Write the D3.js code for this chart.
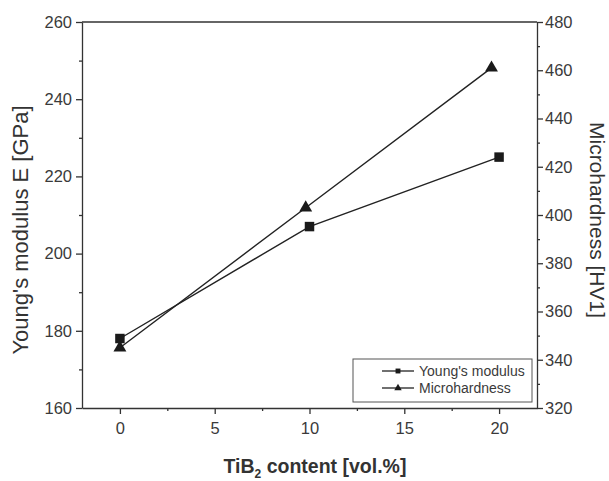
<!DOCTYPE html>
<html>
<head>
<meta charset="utf-8">
<script src="https://cdn.jsdelivr.net/npm/d3@7"></script>
<style>
body { margin: 0; background: #fff; }
svg { font-family: "Liberation Sans", Arial, sans-serif; }
.tick text { font-size: 16.5px; fill: #3a3a3a; }
.axis path, .axis line { stroke: #333; }
.title { fill: #333; }
.legend { font-size: 14px; fill: #3a3a3a; }
</style>
</head>
<body>
<svg id="chart" width="609" height="481"></svg>
<script>
// values
const content = [0, 10, 20];
const youngs = [178, 207, 225];
const hardContent = [0, 9.8, 19.6];
const hardness = [345, 403, 461];
const xTicks = [0, 5, 10, 15, 20];
const leftTicks = [160, 180, 200, 220, 240, 260];
const rightTicks = [320, 340, 360, 380, 400, 420, 440, 460, 480];

let svg = d3.select("#chart");
let pLeft = 82, pRight = 537, pTop = 22, pBottom = 408;

let xScale = d3.scaleLinear().domain([-2, 22]).range([pLeft, pRight]);
let yLeft = d3.scaleLinear().domain([160, 260]).range([pBottom, pTop]);
let yRight = d3.scaleLinear().domain([320, 480]).range([pBottom, pTop]);

// minor ticks first
svg.append("g").attr("class", "axis").attr("transform", `translate(0,${pBottom})`)
    .call(d3.axisBottom(xScale).tickValues([2.5, 7.5, 12.5, 17.5]).tickSize(3).tickFormat(""))
    .select(".domain").remove();
svg.append("g").attr("class", "axis").attr("transform", `translate(${pLeft},0)`)
    .call(d3.axisLeft(yLeft).tickValues(d3.range(170, 260, 20)).tickSize(3).tickFormat(""))
    .select(".domain").remove();
svg.append("g").attr("class", "axis").attr("transform", `translate(${pRight},0)`)
    .call(d3.axisRight(yRight).tickValues(d3.range(330, 480, 20)).tickSize(3).tickFormat(""))
    .select(".domain").remove();

svg.append("g").attr("class", "axis").attr("transform", `translate(0,${pBottom})`)
    .call(d3.axisBottom(xScale).tickValues(xTicks).tickSize(6).tickSizeOuter(0).tickPadding(8));
svg.append("g").attr("class", "axis").attr("transform", `translate(${pLeft},0)`)
    .call(d3.axisLeft(yLeft).tickValues(leftTicks).tickSize(6).tickSizeOuter(0).tickPadding(4));
svg.append("g").attr("class", "axis").attr("transform", `translate(${pRight},0)`)
    .call(d3.axisRight(yRight).tickValues(rightTicks).tickSize(6).tickSizeOuter(0).tickPadding(2));
svg.selectAll(".axis path, .axis line").attr("stroke-width", 1.3);

// top frame line
svg.append("line").attr("x1", pLeft).attr("x2", pRight).attr("y1", pTop).attr("y2", pTop)
    .attr("stroke", "#333").attr("stroke-width", 1.3);

// axis titles
svg.append("text").attr("class", "title").style("font-size", "22px")
    .attr("transform", "translate(28,230) rotate(-90)")
    .attr("text-anchor", "middle").text("Young's modulus E [GPa]");
svg.append("text").attr("class", "title").style("font-size", "21px")
    .attr("transform", "translate(590,220) rotate(90)")
    .attr("text-anchor", "middle").text("Microhardness [HV1]");
let xt = svg.append("text").attr("class", "title").attr("x", 315).attr("y", 473)
    .attr("text-anchor", "middle").attr("font-weight", "bold").style("font-size", "19.5px");
xt.append("tspan").text("TiB");
xt.append("tspan").attr("dy", 5).style("font-size", "12px").text("2");
xt.append("tspan").attr("dy", -5).text(" content [vol.%]");

let ymData = content.map((c, i) => ({x: c, y: youngs[i]}));
let hvData = hardContent.map((c, i) => ({x: c, y: hardness[i]}));

let lineY = d3.line().x(d => xScale(d.x)).y(d => yLeft(d.y));
let lineH = d3.line().x(d => xScale(d.x)).y(d => yRight(d.y));
svg.append("path").attr("d", lineY(ymData)).attr("fill", "none").attr("stroke", "#222").attr("stroke-width", 1.4);
svg.append("path").attr("d", lineH(hvData)).attr("fill", "none").attr("stroke", "#222").attr("stroke-width", 1.4);

let sq = d3.symbol().type(d3.symbolSquare).size(90);
let tri = d3.symbol().type(d3.symbolTriangle).size(72);
svg.selectAll(".sq").data(ymData).join("path").attr("class", "sq")
    .attr("transform", d => `translate(${xScale(d.x)},${yLeft(d.y)})`)
    .attr("d", sq).attr("fill", "#1a1a1a");
svg.selectAll(".tri").data(hvData).join("path").attr("class", "tri")
    .attr("transform", d => `translate(${xScale(d.x)},${yRight(d.y)})`)
    .attr("d", tri).attr("fill", "#1a1a1a");

// legend
let lg = svg.append("g");
lg.append("rect").attr("x", 353).attr("y", 359).attr("width", 179).attr("height", 43)
    .attr("fill", "#fff").attr("stroke", "#555").attr("stroke-width", 1);
const legendItems = [{name: "Young's modulus", sym: d3.symbol().type(d3.symbolSquare).size(24)},
                     {name: "Microhardness", sym: d3.symbol().type(d3.symbolTriangle).size(24)}];
legendItems.forEach((it, i) => {
    let y = 371 + i * 17;
    lg.append("line").attr("x1", 382).attr("x2", 414).attr("y1", y).attr("y2", y)
        .attr("stroke", "#222").attr("stroke-width", 1.3);
    lg.append("path").attr("d", it.sym).attr("transform", `translate(398,${y})`).attr("fill", "#1a1a1a");
    lg.append("text").attr("class", "legend").attr("x", 419).attr("y", y + 5).text(it.name);
});
</script>
</body>
</html>
